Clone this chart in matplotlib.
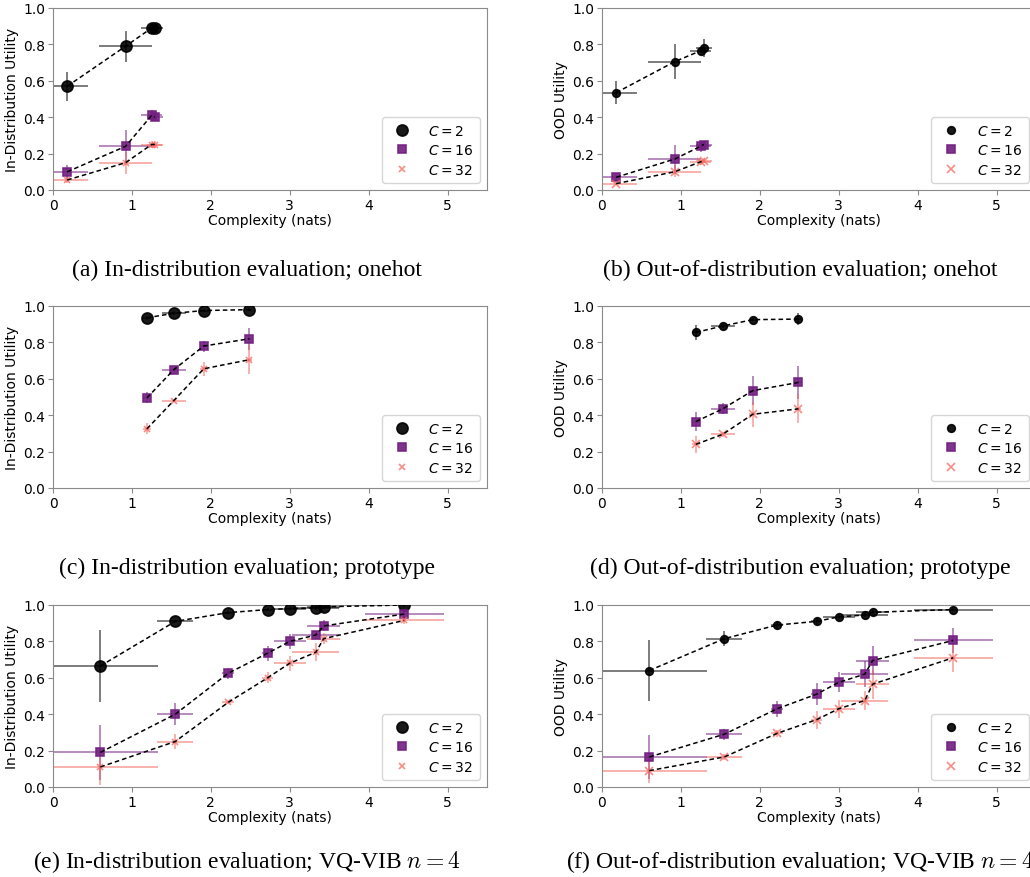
import matplotlib

matplotlib.use("Agg")
import matplotlib.pyplot as plt

# --- dados ---
LABELS = ["$C = 2$", "$C = 16$", "$C = 32$"]

X_ONEHOT = [0.18, 0.92, 1.25, 1.29]
XERR_ONEHOT = [0.26, 0.34, 0.13, 0.10]
X_PROTO = [1.19, 1.53, 1.91, 2.49]
XERR_PROTO = [0.05, 0.15, 0.05, 0.03]
X_VQ = [0.60, 1.55, 2.22, 2.72, 3.00, 3.33, 3.43, 4.45]
XERR_VQ = [0.73, 0.23, 0.08, 0.07, 0.20, 0.30, 0.21, 0.50]

ID_ONEHOT = [[0.57, 0.79, 0.89, 0.89], [0.10, 0.24, 0.41, 0.40], [0.055, 0.15, 0.25, 0.25]]
ID_ONEHOT_ERR = [[0.08, 0.085, 0.01, 0.01], [0.04, 0.09, 0.03, 0.02], [0.015, 0.06, 0.02, 0.02]]
OOD_ONEHOT = [[0.535, 0.705, 0.765, 0.78], [0.07, 0.17, 0.24, 0.25], [0.035, 0.10, 0.155, 0.16]]
OOD_ONEHOT_ERR = [[0.065, 0.095, 0.02, 0.05], [0.02, 0.08, 0.03, 0.02], [0.01, 0.03, 0.01, 0.01]]

ID_PROTO = [[0.935, 0.96, 0.975, 0.98], [0.495, 0.65, 0.78, 0.82], [0.325, 0.48, 0.655, 0.705]]
ID_PROTO_ERR = [[0.01, 0.01, 0.01, 0.01], [0.03, 0.01, 0.03, 0.06], [0.03, 0.01, 0.04, 0.08]]
OOD_PROTO = [[0.855, 0.89, 0.925, 0.928], [0.365, 0.435, 0.535, 0.58], [0.24, 0.295, 0.405, 0.435]]
OOD_PROTO_ERR = [[0.04, 0.01, 0.01, 0.035], [0.05, 0.03, 0.08, 0.09], [0.045, 0.015, 0.07, 0.08]]

ID_VQ = [
    [0.665, 0.91, 0.958, 0.975, 0.98, 0.985, 0.99, 1.0],
    [0.19, 0.40, 0.625, 0.735, 0.80, 0.835, 0.885, 0.95],
    [0.11, 0.25, 0.465, 0.60, 0.68, 0.74, 0.815, 0.915],
]
ID_VQ_ERR = [
    [0.20, 0.01, 0.01, 0.01, 0.01, 0.01, 0.01, 0.01],
    [0.15, 0.06, 0.03, 0.04, 0.04, 0.02, 0.03, 0.02],
    [0.10, 0.04, 0.01, 0.03, 0.04, 0.05, 0.03, 0.02],
]
OOD_VQ = [
    [0.64, 0.815, 0.89, 0.91, 0.935, 0.945, 0.96, 0.975],
    [0.165, 0.29, 0.43, 0.51, 0.575, 0.62, 0.695, 0.805],
    [0.09, 0.165, 0.295, 0.37, 0.43, 0.475, 0.565, 0.71],
]
OOD_VQ_ERR = [
    [0.17, 0.04, 0.02, 0.02, 0.01, 0.01, 0.01, 0.01],
    [0.12, 0.03, 0.045, 0.06, 0.055, 0.07, 0.08, 0.07],
    [0.07, 0.015, 0.02, 0.05, 0.05, 0.05, 0.08, 0.08],
]

CAPTIONS = [
    "(a) In-distribution evaluation; onehot",
    "(b) Out-of-distribution evaluation; onehot",
    "(c) In-distribution evaluation; prototype",
    "(d) Out-of-distribution evaluation; prototype",
    "(e) In-distribution evaluation; VQ-VIB $n = 4$",
    "(f) Out-of-distribution evaluation; VQ-VIB $n = 4$",
]

COLORS = ["black", "#721f81", "#f4685f"]
MARKERS = ["o", "s", "x"]
SPINE = "#8a8a8a"

W, H = 1030, 878
fig = plt.figure(figsize=(W / 100, H / 100), dpi=100)


def painel(left_px, top_px, x, xerr, ys, yerrs, ylabel, sizes):
    ax = fig.add_axes([left_px / W, 1 - (top_px + 182) / H, 434 / W, 182 / H])
    for i in range(3):
        ax.errorbar(x, ys[i], xerr=xerr, yerr=yerrs[i], fmt="none",
                    ecolor=COLORS[i], elinewidth=1.2, alpha=0.6, zorder=2)
        ax.plot(x, ys[i], linestyle="none", marker=MARKERS[i], ms=sizes[i],
                color=COLORS[i], mew=1.2, alpha=0.9 if i < 2 else 0.75,
                label=LABELS[i], zorder=3)
        ax.plot(x, ys[i], "k--", lw=1.1, dashes=(3, 2), zorder=4)
    ax.set_xlim(0, 5.5)
    ax.set_ylim(0, 1.0)
    ax.set_xticks([0, 1, 2, 3, 4, 5])
    ax.set_yticks([0.0, 0.2, 0.4, 0.6, 0.8, 1.0])
    ax.set_xlabel("Complexity (nats)", fontsize=10, labelpad=1)
    ax.set_ylabel(ylabel, fontsize=10, labelpad=3)
    ax.tick_params(labelsize=10, color=SPINE, length=3.5, pad=2)
    for s in ax.spines.values():
        s.set_color(SPINE)
    ax.legend(loc="lower right", fontsize=10, numpoints=1, borderpad=0.45,
              labelspacing=0.4, handletextpad=0.9)
    return ax


ID_SIZES = [8, 5.5, 4]
OOD_SIZES = [5.5, 5.5, 6]

painel(53, 9, X_ONEHOT, XERR_ONEHOT, ID_ONEHOT, ID_ONEHOT_ERR, "In-Distribution Utility", ID_SIZES)
painel(602, 9, X_ONEHOT, XERR_ONEHOT, OOD_ONEHOT, OOD_ONEHOT_ERR, "OOD Utility", OOD_SIZES)
painel(53, 307, X_PROTO, XERR_PROTO, ID_PROTO, ID_PROTO_ERR, "In-Distribution Utility", ID_SIZES)
painel(602, 307, X_PROTO, XERR_PROTO, OOD_PROTO, OOD_PROTO_ERR, "OOD Utility", OOD_SIZES)
painel(53, 606, X_VQ, XERR_VQ, ID_VQ, ID_VQ_ERR, "In-Distribution Utility", ID_SIZES)
painel(602, 606, X_VQ, XERR_VQ, OOD_VQ, OOD_VQ_ERR, "OOD Utility", OOD_SIZES)

# legendas das subfiguras
cap_y = [270, 270, 568, 568, 862, 862]
cap_x = [247, 800, 247, 800, 247, 800]
for txt, cx, cy in zip(CAPTIONS, cap_x, cap_y):
    fig.text(cx / W, 1 - cy / H, txt, ha="center", va="center",
             family="Liberation Serif", fontsize=17, math_fontfamily="cm")

plt.savefig("out.png", dpi=100)
plt.close()
